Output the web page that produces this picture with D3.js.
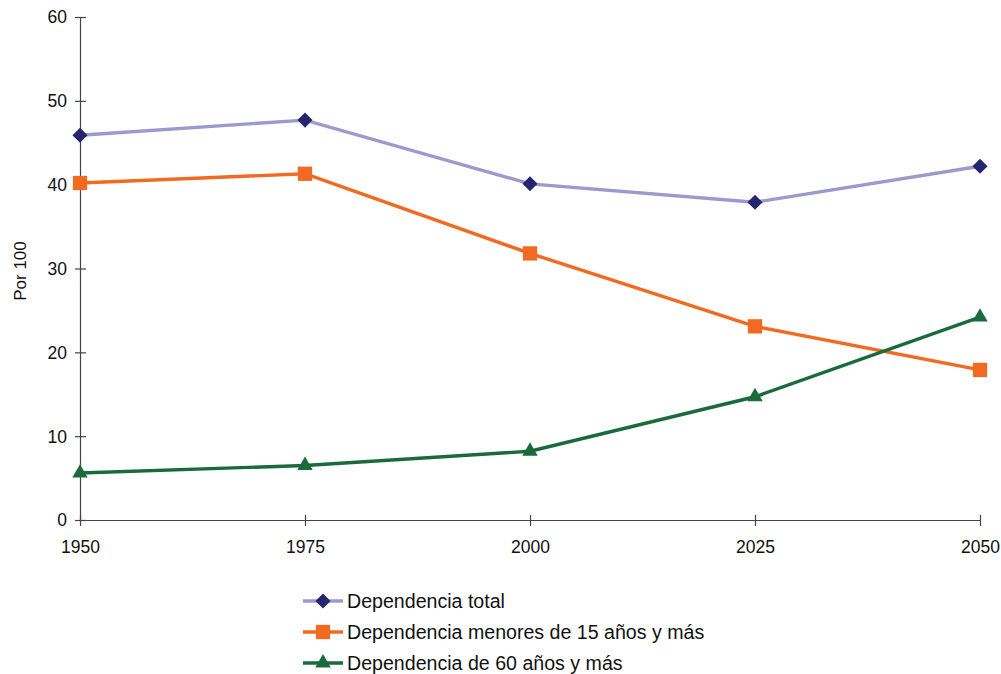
<!DOCTYPE html>
<html><head><meta charset="utf-8">
<script src="https://cdn.jsdelivr.net/npm/d3@7"></script>
<style>body{margin:0;background:#fff}svg{display:block}text{font-family:"Liberation Sans",Arial,sans-serif;fill:#111}</style>
</head><body><svg id="c" width="1001" height="674"></svg>
<script>
const years = [1950, 1975, 2000, 2025, 2050];
const total = [45.9, 47.7, 40.1, 37.9, 42.2];
const menores = [40.2, 41.3, 31.8, 23.1, 17.9];
const mayores = [5.6, 6.5, 8.2, 14.7, 24.2];
const yTicks = [0, 10, 20, 30, 40, 50, 60];
const seriesNames = ["Dependencia total", "Dependencia menores de 15 años y más", "Dependencia de 60 años y más"];

const svg = d3.select("#c");
const x = d3.scalePoint().domain(years).range([80, 980]);
const y = d3.scaleLinear().domain([0, 60]).range([520, 17]);

// axes
const yAxis = svg.append("g").attr("transform", "translate(80,0)")
  .call(d3.axisLeft(y).tickValues(yTicks).tickSizeInner(5).tickSizeOuter(0).tickPadding(8));
yAxis.selectAll(".tick line").attr("x2", 6).attr("x1", -5);
const xAxis = svg.append("g").attr("transform", "translate(0,520)")
  .call(d3.axisBottom(x).tickSizeInner(6).tickSizeOuter(0).tickPadding(15));
xAxis.selectAll(".tick line").attr("y1", -5).attr("y2", 6);
svg.selectAll(".domain, .tick line").attr("stroke", "#444").attr("stroke-width", 1.2);
svg.selectAll(".tick text").attr("font-size", 17.5).attr("font-family", "Liberation Sans, Arial, sans-serif").attr("fill", "#111");
yAxis.selectAll(".tick text").attr("dy", "0.34em");

svg.append("text").attr("transform", "translate(26,271) rotate(-90)")
  .attr("text-anchor", "middle").attr("font-size", 17).text("Por 100");

const series = [
  {name: seriesNames[0], vals: total, line: "#9a9acf", mark: "#252570", sym: d3.symbolDiamond2, size: 145},
  {name: seriesNames[1], vals: menores, line: "#f26a21", mark: "#f26a21", sym: d3.symbolSquare2, size: 260},
  {name: seriesNames[2], vals: mayores, line: "#1b6a3b", mark: "#1b6a3b", sym: d3.symbolTriangle2, size: 170}
];
const sym = (s) => d3.symbol().type(s.sym).size(s.size)();
const line = d3.line().x((d, i) => x(years[i])).y(d => y(d));

series.forEach(s => {
  svg.append("path").attr("d", line(s.vals)).attr("fill", "none")
    .attr("stroke", s.line).attr("stroke-width", 3.4);
  svg.selectAll(null).data(s.vals).enter().append("path")
    .attr("d", sym(s))
    .attr("transform", (d, i) => `translate(${x(years[i])},${y(d)})`)
    .attr("fill", s.mark);
});

// legend
const leg = svg.append("g");
series.forEach((s, i) => {
  const ly = 601 + i * 31;
  leg.append("line").attr("x1", 303).attr("x2", 343).attr("y1", ly).attr("y2", ly)
    .attr("stroke", s.line).attr("stroke-width", 3.4);
  leg.append("path").attr("d", sym(s)).attr("transform", `translate(323,${ly})`).attr("fill", s.mark);
  leg.append("text").attr("x", 347).attr("y", ly).attr("dy", "0.35em").attr("font-size", 19.6).text(s.name);
});
</script></body></html>
